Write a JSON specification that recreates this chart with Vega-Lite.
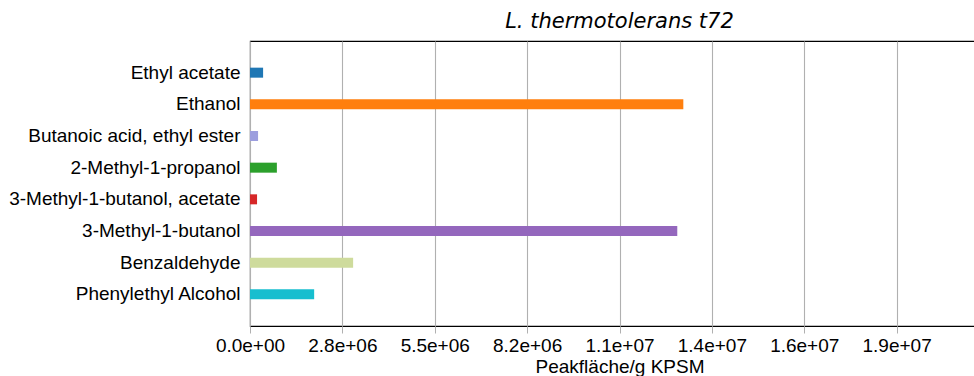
{
  "$schema": "https://vega.github.io/schema/vega-lite/v6.json",
  "width": 739,
  "height": 285,
  "padding": {"left": 8, "top": 11, "right": 0, "bottom": 0},
  "autosize": {"type": "pad"},
  "title": {
    "text": "L. thermotolerans t72",
    "font": "DejaVu Sans",
    "fontSize": 21,
    "fontStyle": "italic",
    "fontWeight": "normal",
    "color": "black",
    "anchor": "middle",
    "offset": 9
  },
  "data": {
    "values": [
      {"compound": "Ethyl acetate", "area": 390000},
      {"compound": "Ethanol", "area": 12900000},
      {"compound": "Butanoic acid, ethyl ester", "area": 240000},
      {"compound": "2-Methyl-1-propanol", "area": 800000},
      {"compound": "3-Methyl-1-butanol, acetate", "area": 210000},
      {"compound": "3-Methyl-1-butanol", "area": 12720000},
      {"compound": "Benzaldehyde", "area": 3070000},
      {"compound": "Phenylethyl Alcohol", "area": 1910000}
    ]
  },
  "mark": {"type": "bar"},
  "encoding": {
    "y": {
      "field": "compound",
      "type": "nominal",
      "sort": null,
      "scale": {"paddingInner": 0.684, "paddingOuter": 0.842},
      "axis": {
        "title": null,
        "ticks": false,
        "domain": false,
        "labelFont": "Liberation Sans",
        "labelFontSize": 19,
        "labelColor": "black",
        "labelPadding": 10,
        "labelLimit": 400
      }
    },
    "x": {
      "field": "area",
      "type": "quantitative",
      "scale": {"domain": [0, 22000000], "nice": false, "zero": true},
      "axis": {
        "title": "Peakfläche/g KPSM",
        "titleFont": "Liberation Sans",
        "titleFontSize": 19,
        "titleFontWeight": "normal",
        "titleColor": "black",
        "titlePadding": 2,
        "values": [0, 2750000, 5500000, 8250000, 11000000, 13750000, 16500000, 19250000],
        "labelExpr": "['0.0e+00','2.8e+06','5.5e+06','8.2e+06','1.1e+07','1.4e+07','1.6e+07','1.9e+07'][round(datum.value / 2750000)]",
        "labelFont": "Liberation Sans",
        "labelFontSize": 19,
        "labelColor": "black",
        "labelPadding": 3,
        "labelFlush": false,
        "tickColor": "#b0b0b0",
        "tickSize": 7,
        "grid": true,
        "gridColor": "#b0b0b0",
        "gridWidth": 1.1,
        "domain": false
      }
    },
    "color": {
      "field": "compound",
      "type": "nominal",
      "sort": null,
      "scale": {
        "domain": ["Ethyl acetate", "Ethanol", "Butanoic acid, ethyl ester", "2-Methyl-1-propanol", "3-Methyl-1-butanol, acetate", "3-Methyl-1-butanol", "Benzaldehyde", "Phenylethyl Alcohol"],
        "range": ["#1f77b4", "#ff7f0e", "#9c9ede", "#2ca02c", "#d62728", "#9467bd", "#cedb9c", "#17becf"]
      },
      "legend": null
    }
  },
  "config": {
    "view": {"stroke": "black", "strokeWidth": 1.1}
  }
}
